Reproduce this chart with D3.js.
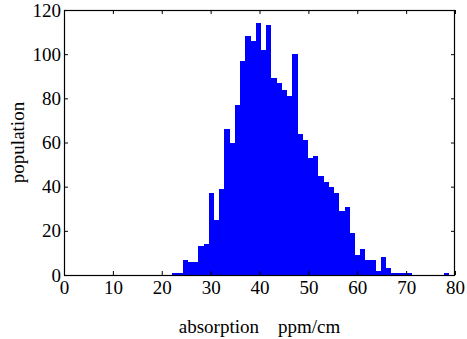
<!DOCTYPE html>
<html>
<head>
<meta charset="utf-8">
<script src="https://cdn.jsdelivr.net/npm/d3@7"></script>
<style>
  body { margin: 0; background: #fff; }
</style>
</head>
<body>
<svg id="hist"></svg>
<script>
// histogram counts, one per bin
const counts = [1, 1, 7, 6, 6, 13, 14, 37, 25, 39,
  66, 60, 77, 97, 108, 106, 114, 102, 113, 89,
  87, 84, 81, 100, 64, 61, 53, 54, 45, 42,
  40, 37, 29, 31, 19, 9, 12, 7, 7, 2,
  8, 3, 1, 1, 1, 1, 0, 0, 0, 0,
  0, 0, 1];
const binStart = 22.15, binWidth = 1.068;
const xTicks = [0, 10, 20, 30, 40, 50, 60, 70, 80];
const yTicks = [0, 20, 40, 60, 80, 100, 120];
const xLabel = 'absorption    ppm/cm';
const yLabel = 'population';

const width = 467, height = 339;
const margin = { top: 10, right: 12, bottom: 64, left: 64 };
const innerWidth = width - margin.left - margin.right;
const innerHeight = height - margin.top - margin.bottom;
const fontFamily = '"Liberation Serif", "Times New Roman", serif';
const fontSize = '19px';

const svg = d3.select('svg#hist')
  .attr('width', width)
  .attr('height', height);

const bins = counts.map((c, i) => ({ x0: binStart + i * binWidth, x1: binStart + (i + 1) * binWidth, n: c }));

const xScale = d3.scaleLinear().domain([0, 80]).range([0, innerWidth]);
const yScale = d3.scaleLinear().domain([0, 120]).range([innerHeight, 0]);

const g = svg.append('g')
  .attr('transform', `translate(${margin.left}, ${margin.top})`);

g.selectAll('rect.bar').data(bins.filter(d => d.n > 0))
  .enter().append('rect')
    .attr('class', 'bar')
    .attr('x', d => Math.round(xScale(d.x0)))
    .attr('y', d => Math.round(yScale(d.n)))
    .attr('width', d => Math.round(xScale(d.x1)) - Math.round(xScale(d.x0)))
    .attr('height', d => innerHeight - Math.round(yScale(d.n)))
    .attr('fill', '#0000ff')
    .attr('shape-rendering', 'crispEdges');

const styleAxis = sel => {
  sel.attr('font-family', fontFamily).attr('font-size', fontSize);
  sel.selectAll('path').remove();
  sel.selectAll('line').attr('stroke', '#000');
  sel.selectAll('text').attr('fill', '#000');
};

g.append('g')
  .attr('transform', `translate(0, ${innerHeight})`)
  .call(d3.axisBottom(xScale).tickValues(xTicks).tickSize(-4).tickSizeOuter(0).tickPadding(6))
  .call(styleAxis);

g.append('g')
  .call(d3.axisTop(xScale).tickValues(xTicks).tickSize(-4).tickSizeOuter(0).tickFormat(''))
  .call(styleAxis)
  .call(a => a.selectAll('text').remove());

g.append('g')
  .call(d3.axisLeft(yScale).tickValues(yTicks).tickSize(-4).tickSizeOuter(0).tickPadding(3))
  .call(styleAxis);

g.append('g')
  .attr('transform', `translate(${innerWidth}, 0)`)
  .call(d3.axisRight(yScale).tickValues(yTicks).tickSize(-4).tickSizeOuter(0).tickFormat(''))
  .call(styleAxis)
  .call(a => a.selectAll('text').remove());

g.append('rect')
  .attr('x', 0.5).attr('y', 0.5)
  .attr('width', innerWidth - 1).attr('height', innerHeight)
  .attr('fill', 'none')
  .attr('stroke', '#000')
  .attr('stroke-width', 1.2);

svg.append('text')
  .attr('x', margin.left + innerWidth / 2)
  .attr('y', 333)
  .attr('text-anchor', 'middle')
  .attr('font-family', fontFamily)
  .attr('font-size', fontSize)
  .style('white-space', 'pre')
  .text(xLabel);

svg.append('text')
  .attr('transform', `translate(24, ${margin.top + innerHeight / 2}) rotate(-90)`)
  .attr('text-anchor', 'middle')
  .attr('font-family', fontFamily)
  .attr('font-size', fontSize)
  .text(yLabel);
</script>
</body>
</html>
